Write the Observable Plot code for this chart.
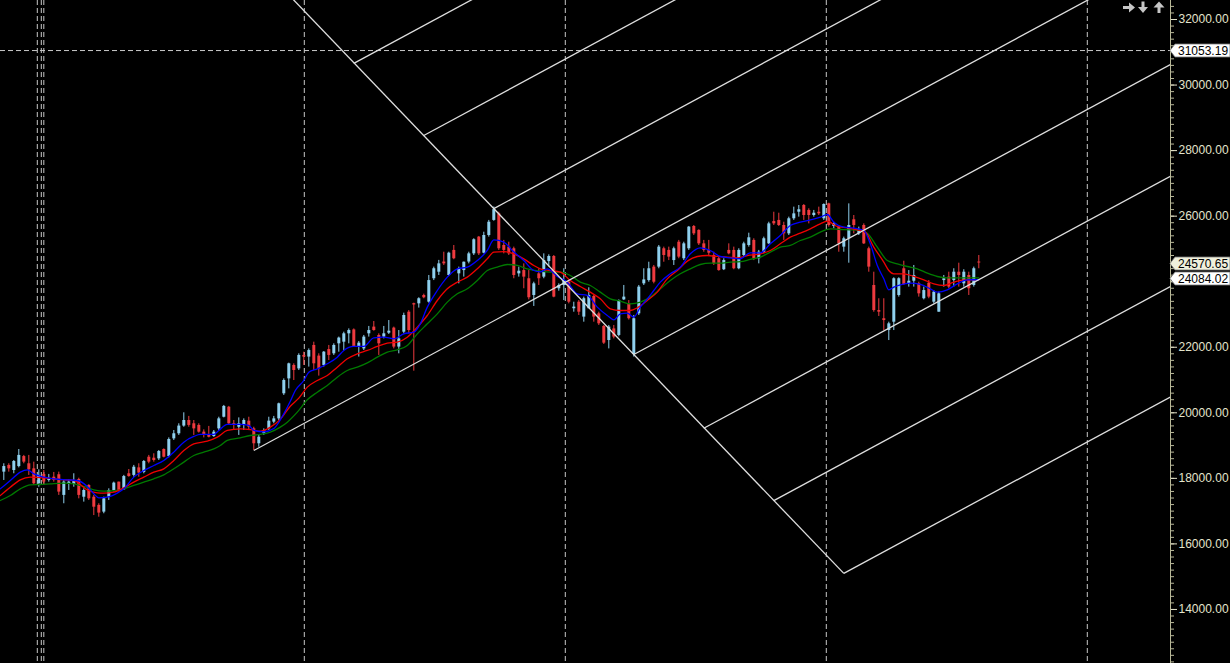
<!DOCTYPE html>
<html><head><meta charset="utf-8">
<script src="https://cdn.jsdelivr.net/npm/d3@7"></script>
<script src="https://cdn.jsdelivr.net/npm/@observablehq/plot@0.6"></script>
<style>html,body{margin:0;padding:0;background:#000;overflow:hidden}</style>
</head><body><div id="chart"></div>
<script>
const opens = [18190,18395,18240,18360,18665,18445,18290,17835,18120,17935,
18035,18110,17480,17815,17815,17965,17425,17785,17425,17175,
16970,17425,17630,17885,17650,18140,18090,18320,18180,18645,
18615,18595,18880,18665,19205,19360,19595,19765,19665,19615,
19410,19310,19275,19510,19865,20170,19665,19560,19615,19745,
19510,19055,19360,19510,19715,19815,20580,21035,21445,21340,
21750,21700,22055,21730,21445,21930,21800,22105,22155,22410,
22530,22005,21950,22410,22615,22360,22310,22430,22585,22005,
22460,23070,23330,23325,23580,23375,24090,24290,24600,24190,
24955,24240,24340,24600,24850,25360,24870,25410,25870,26070,
25105,25055,25005,24240,24340,24090,23580,24240,24140,24615,
24770,23785,23885,23985,23175,23375,22920,23175,23550,23020,
22635,22205,22560,22360,23445,23325,21780,23020,23935,24035,
24445,24445,25005,24955,24645,25205,24700,25005,25685,25565,
25155,24955,24800,24700,24365,24955,24955,24395,24800,25105,
25260,24700,24900,25155,25835,25870,25715,25460,25920,26120,
26325,26175,26020,26120,25920,26375,25685,25665,25055,25310,
25890,25460,25715,25005,23885,23120,22870,22510,22765,23580,
24395,23935,24015,23935,23480,23955,23375,23070,24035,24140,
24035,24290,23935,24190,23885,24600];
const highs = [18445,18445,18545,18880,18700,18700,18495,18260,18240,18120,
18180,18190,17935,17955,18140,18005,17680,17805,17480,17225,
17425,17680,17885,17885,18090,18270,18395,18445,18545,18700,
18750,18850,18900,19235,19460,19665,20000,19890,19765,19665,
19480,19585,19460,19865,20225,20195,19765,19845,19815,19865,
19560,19310,19510,19865,19890,20295,21035,21515,21495,21800,
21850,21950,22155,21800,21870,22055,22105,22310,22460,22560,
22560,22175,22360,22635,22785,22410,22635,22815,22615,22510,
23040,23120,23345,23510,23620,24190,24445,24650,24900,24900,
25105,24445,24600,24900,25310,25380,25510,25870,26280,26120,
25260,25205,25055,24445,24545,24340,23985,24395,24850,24820,
24800,23935,24395,24035,23375,23425,23530,23815,23580,23070,
22665,22665,22665,23445,23885,23425,22970,23885,24395,24595,
24495,25105,25055,25055,25055,25260,25205,25685,25715,25585,
25260,25260,24900,24750,24700,25155,25055,25005,25205,25480,
25310,24955,25360,25815,26120,26090,25815,25970,26275,26325,
26355,26225,26175,26275,26375,26395,25815,25715,25360,26375,
26020,25665,25765,25055,24290,23480,23480,22765,24120,24120,
24625,24340,24495,23985,23835,24035,23730,23680,24190,24290,
24395,24565,24365,24290,24445,24800];
const lows = [17935,18190,18140,18320,18445,18090,17785,17730,17785,17885,
17885,17480,17225,17630,17730,17375,17275,17325,16865,16815,
16920,17325,17580,17580,17630,18035,18035,18035,18140,18445,
18495,18545,18625,18625,19155,19310,19560,19560,19310,19380,
19235,19235,19255,19460,19845,19615,19460,19310,19460,19480,
18850,18950,19310,19460,19665,19765,20530,20730,20985,21290,
21445,21395,21290,21120,21395,21595,21750,21850,21900,22105,
22005,21700,21900,22310,22490,21750,22255,22390,21950,21800,
22410,22410,21270,23195,23480,23345,24035,24190,24495,24160,
24670,23935,24140,24545,24800,24800,24850,25360,25845,24955,
24850,24800,24090,24140,23785,23445,23245,23885,24090,24445,
23510,23710,23425,23325,23070,22970,22765,23175,22765,22665,
22085,21950,22255,22320,23425,22830,21700,22970,23885,23985,
23935,24395,24595,24645,24495,24700,24645,24955,25410,25105,
24900,24800,24495,24320,24340,24820,24365,24365,24750,25055,
24645,24545,24850,25135,25715,25685,25260,25410,25870,25970,
25870,25765,25970,26020,25870,25665,25615,24900,24900,24565,
25460,25410,25135,24290,23070,22940,22510,22205,22510,23530,
23885,23835,23835,23530,23445,23480,23325,23070,23835,23785,
23835,23835,23835,23580,23835,24395];
const closes = [18360,18290,18515,18700,18495,18260,17835,18090,17885,17985,
17935,17580,17885,17885,17935,17480,17630,17375,17120,16940,
17375,17630,17855,17630,18055,18055,18340,18160,18515,18495,
18545,18820,18645,19185,19360,19595,19765,19615,19510,19410,
19310,19255,19410,19815,20195,19665,19615,19665,19765,19560,
19055,19255,19460,19745,19815,20275,20985,21495,21290,21750,
21700,21900,21495,21340,21850,21750,22055,22280,22410,22510,
22025,22125,22310,22510,22510,22105,22410,22490,22005,22255,
22970,22510,23290,23480,23510,24035,24395,24545,24545,24870,
24700,24395,24595,24850,25280,24850,25410,25815,26200,25005,
24955,24850,24190,24320,24140,23510,23935,24090,24645,24770,
23530,23885,24035,23375,23225,23070,23480,23580,22920,22715,
22125,22615,22310,23425,23530,22870,22870,23835,24055,24395,
23985,25055,24800,24750,25005,24750,25155,25665,25460,25155,
24955,24870,24545,24340,24645,24850,24395,24955,25155,25340,
24700,24900,25310,25765,25765,25715,25460,25920,26070,26195,
26020,26020,26090,26070,26355,25715,25765,25155,25310,25715,
25715,25585,25155,24445,23120,23070,22815,22715,24090,24090,
23915,24015,24190,23630,23730,23530,23680,23630,24090,23835,
24290,24190,24290,23785,24395,24570.65];

// moving averages (bar position, value)
const blueMaX = [-0.7,1.3,3.3,4.7,6,8,10,12.7,14.7,16.7,18,19,20.7,22.7,24,26,28,30,32,34,36,38,39.3,42,43,44.7,47.3,49,50,52,54,56,57.3,58.3,60,61,62.7,64.7,66.7,68,70,72,74,76,78,80,82,83.3,84.7,86.7,88.7,90.7,92.7,94.7,96.7,98,100,101.7,104,106,107.3,108.7,110.7,112.7,114.7,116.7,118.7,120.7,122,123.3,124.7,126,127.3,128.7,130,131.3,133.3,135.3,137.3,139.3,141.3,143.3,145.3,147.3,149.3,151.3,153.3,155.3,157.3,159.3,161.3,163.3,164.7,166,168,170,172,173.3,174.7,176,177,178,179.3,181.3,183.3,185.3,186.7,188.7,190.7,192.7,195];
const blueMaY = [17681,17935,18189,18260,18138,18037,17986,17956,17935,17752,17529,17407,17427,17549,17681,18037,18240,18393,18545,18800,19105,19278,19339,19339,19461,19644,19644,19613,19461,19420,19520,19969,20350,20681,20986,21240,21342,21495,21698,21902,22024,22024,22288,22308,22258,22410,22461,22715,23224,23732,24139,24393,24444,24647,24953,25278,25207,24953,24647,24342,24300,24393,24159,23986,23630,23580,23224,22969,22837,23020,23040,22918,23224,23478,23732,23986,24241,24444,24851,25034,24953,24769,24729,24700,24880,24880,25156,25410,25715,25817,25888,25969,26051,25817,25664,25634,25563,25156,24495,24088,23752,23834,23905,23956,23915,23783,23681,23752,23935,24058,24060];
const redMaX = [-0.7,1.3,3.3,5.3,8,10,12,14,16.7,18.7,20,22,24,26,28,30,32,34,36,38,40.7,42.7,44.7,47.3,49.3,51.3,53.3,55.3,57.3,59,60.7,62.7,64.7,66.7,68.7,70.7,72.7,74.7,76.7,78.7,80.7,82.7,84.7,86.7,88.7,90.7,92.7,94.7,96.7,98,100,102,104,106,107.3,109.3,111.3,113.3,115.3,117.3,119.3,121.3,123.3,125.3,126.7,128.7,130.7,132.7,134.7,136.7,138.7,140.7,142.7,144.7,146.7,148.7,151.3,153.3,155.3,157.3,159.3,161.3,163.3,164.7,166.7,168.7,170.7,172.3,174,176,177,178,180,182,184,186,188,190,192,195];
const redMaY = [17477,17730,17956,18037,18017,17986,17956,17935,17650,17560,17549,17579,17711,17884,18037,18189,18291,18545,18850,19054,19135,19257,19461,19511,19490,19440,19562,19800,20200,20450,20783,20986,21139,21393,21647,21800,21902,22024,22125,22156,22308,22613,22969,23427,23783,23986,24139,24393,24698,24902,24920,24851,24698,24495,24393,24340,24291,24037,23854,23681,23478,23173,23122,23122,23203,23427,23681,24088,24342,24627,24769,24800,24770,24749,24729,24800,24851,24953,25156,25359,25481,25614,25766,25847,25685,25644,25583,25512,25054,24597,24342,24241,24241,24159,24058,23935,23885,23986,24058,24058];
const greenMaX = [-0.7,1.3,3.3,5.3,7.3,9.3,12,14,16,18,20,22.7,24,26,28,30,32,34,36,38,40,42,43.3,44.7,47.3,49.3,51.3,53.3,55.3,56.7,58.7,60.7,62.7,64.7,66.7,68.7,70.7,72.7,74.7,76.7,78.7,80.7,82.7,84.7,86.7,88.7,90.7,92.7,94.7,96.7,98.7,100.7,102.7,104.7,107.3,109.3,111.3,113.3,115.3,117.3,119.3,121.3,123.3,125.3,127.3,129.3,131.3,133.3,135.3,137.3,139.3,141.3,143.3,145.3,147.3,149.3,151.3,153.3,155.3,157.3,159.3,161.3,163.3,165.3,167.3,169.3,171.3,172.7,174.7,176.7,178.7,180.7,182.7,184.7,186.7,188.7,190.7,192.7,195];
const greenMaY = [17325,17477,17681,17803,17813,17833,17854,17833,17752,17650,17610,17630,17681,17783,17884,17986,18108,18291,18495,18698,18800,18901,19003,19156,19237,19308,19339,19410,19562,19715,20020,20396,20630,20834,21088,21291,21393,21525,21698,21851,21922,22054,22410,22715,23020,23376,23630,23783,24037,24342,24444,24525,24495,24393,24322,24291,24291,24190,23986,23885,23681,23478,23407,23325,23376,23529,23783,24037,24241,24393,24525,24566,24566,24597,24610,24680,24749,24902,25054,25105,25258,25359,25512,25614,25593,25583,25563,25481,25054,24647,24546,24464,24393,24261,24159,24119,24119,24119,24119];

// drawing objects (bar position, price)
const downLineX = [56, 168];
const downLineY = [32910, 15100];
const riseStartX = [70, 84, 98, 50, 126, 140, 154, 168];
const riseStartY = [30660, 28460, 26230, 18850, 21780, 19530, 17320, 15100];
const riseSlope = 82.4;       // price per bar
const riseEndX = 240;
const hLineValue = 31053.19;
const periodBreaks = [6.7, 7.5, 8.0, 60.1, 112.3, 164.5, 216.7];
const yTicks = [14000,16000,18000,20000,22000,24000,26000,28000,30000,32000];
const yTickLabels = ["14000.00","16000.00","18000.00","20000.00","22000.00","","26000.00","28000.00","30000.00","32000.00"]; // 24000 hidden under a price tag
const tagValues = [31053.19, 24570.65, 24084.02];
const tagFills = ["#ffffff", "#f0f0dc", "#ffffff"];
const xDomain = [-0.66, 233.34];
const yDomain = [12351, 32580];

const upColor = "#8fd0ee", downColor = "#ee3a3f";
const candles = opens.map((o, i) => ({i, open: o, high: highs[i], low: lows[i], close: closes[i], up: closes[i] >= o}));
const zip = (xs, ys) => xs.map((x, k) => ({x, y: ys[k]}));
const riseLines = riseStartX.map((x, k) => ({x1: x, y1: riseStartY[k], x2: riseEndX, y2: riseStartY[k] + (riseEndX - x) * riseSlope}));
const downLine = [{x1: downLineX[0], y1: downLineY[0], x2: downLineX[1], y2: downLineY[1]}];
const minorTicks = d3.range(12400, 32600, 200);

function tagsMark(index, scales, values, dims) {
  const g = d3.create("svg:g").attr("font-family", "Liberation Sans, Arial, sans-serif").attr("font-size", 12).attr("text-anchor", "start");
  const x0 = dims.width - dims.marginRight;
  tagValues.forEach((v, k) => {
    const y = Math.round(scales.y(v)) + 0.5;
    const h = 6.5;
    g.append("path")
      .attr("d", `M${x0},${y} L${x0 + 5},${y - h} L${dims.width},${y - h} L${dims.width},${y + h} L${x0 + 5},${y + h} Z`)
      .attr("fill", tagFills[k]).attr("stroke", "#777").attr("stroke-width", 0.8);
    g.append("text").attr("x", x0 + 8).attr("y", y).attr("dy", "0.36em").attr("text-anchor", "start").attr("fill", "#000").text(v.toFixed(2));
  });
  // navigation arrow icons (top right of the plot area)
  const c = "#c6c6c6";
  const xr = x0 - 47, xd = x0 - 27, xu = x0 - 11;
  g.append("path").attr("fill", c).attr("d",
    `M${xr},6 L${xr + 6},6 L${xr + 6},2.5 L${xr + 12},7.5 L${xr + 6},12.5 L${xr + 6},9 L${xr},9 Z`);
  g.append("path").attr("fill", c).attr("d",
    `M${xd - 1.5},1.5 L${xd + 1.5},1.5 L${xd + 1.5},7 L${xd + 5},7 L${xd},13 L${xd - 5},7 L${xd - 1.5},7 Z`);
  g.append("path").attr("fill", c).attr("d",
    `M${xu - 1.5},13 L${xu + 1.5},13 L${xu + 1.5},7.5 L${xu + 5.5},7.5 L${xu},1.5 L${xu - 5.5},7.5 L${xu - 1.5},7.5 Z`);
  return g.node();
}

const chart = Plot.plot({
  width: 1230, height: 663,
  marginLeft: 0, marginRight: 60, marginTop: 0, marginBottom: 0,
  x: {type: "linear", domain: xDomain, axis: null},
  y: {type: "linear", domain: yDomain, axis: null},
  style: {background: "#000", color: "#e4e4cc", fontFamily: "Liberation Sans, Arial, sans-serif", fontSize: "12px"},
  marks: [
    Plot.ruleX(periodBreaks, {stroke: "#c8c8c8", strokeWidth: 1, strokeDasharray: "5,3"}),
    Plot.ruleY([hLineValue], {stroke: "#c8c8c8", strokeWidth: 1, strokeDasharray: "5,3"}),
    Plot.ruleX(candles, {x: "i", y1: "low", y2: "high", stroke: d => d.up ? upColor : downColor, strokeWidth: 1}),
    Plot.ruleX(candles, {x: "i", y1: "open", y2: "close", stroke: d => d.up ? upColor : downColor, strokeWidth: 3}),
    Plot.line(zip(greenMaX, greenMaY), {x: "x", y: "y", stroke: "#007a00", strokeWidth: 1.3, curve: "monotone-x"}),
    Plot.line(zip(redMaX, redMaY), {x: "x", y: "y", stroke: "#f00000", strokeWidth: 1.3, curve: "monotone-x"}),
    Plot.line(zip(blueMaX, blueMaY), {x: "x", y: "y", stroke: "#0000ff", strokeWidth: 1.3, curve: "monotone-x"}),
    Plot.link(riseLines, {x1: "x1", y1: "y1", x2: "x2", y2: "y2", stroke: "#dedede", strokeWidth: 1.3, clip: true}),
    Plot.link(downLine, {x1: "x1", y1: "y1", x2: "x2", y2: "y2", stroke: "#dedede", strokeWidth: 1.3, clip: true}),
    Plot.ruleX([xDomain[1]], {stroke: "#b8b898", strokeWidth: 1}),
    Plot.axisY(minorTicks, {anchor: "right", tickSize: 3, tickFormat: () => "", color: "#b8b898"}),
    Plot.axisY(yTicks, {anchor: "right", tickSize: 6, tickPadding: 2, tickFormat: (d, k) => yTickLabels[yTicks.indexOf(d)], color: "#e4e4cc", fontSize: 12}),
    tagsMark
  ]
});
document.getElementById("chart").appendChild(chart);
</script>
</body></html>
